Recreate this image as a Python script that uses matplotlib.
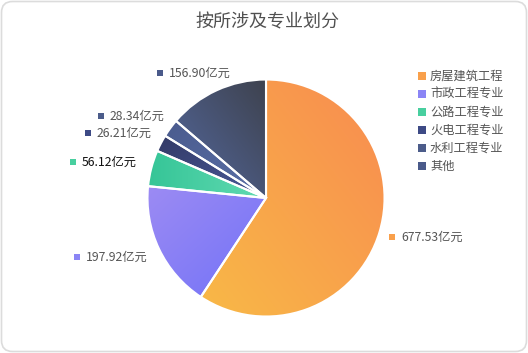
import numpy as np
import matplotlib
matplotlib.use("Agg")
import matplotlib.pyplot as plt
from matplotlib.patches import FancyBboxPatch
from matplotlib.colors import LinearSegmentedColormap

plt.rcParams['font.family'] = ['Noto Sans CJK SC', 'DejaVu Sans']

title = "按所涉及专业划分"
categories = ["房屋建筑工程", "市政工程专业", "公路工程专业", "火电工程专业", "水利工程专业", "其他"]
values = [677.53, 197.92, 56.12, 26.21, 28.34, 156.90]
value_labels = ["677.53亿元", "197.92亿元", "56.12亿元", "26.21亿元", "28.34亿元", "156.90亿元"]

# gradient colour pairs (start, end) and direction vectors (dx, dy) in y-up coords
grad_colors = [("#F98B50", "#F8B947"), ("#9C8BF3", "#7272F8"), ("#35C597", "#62DAB2"),
               ("#333A66", "#4A5A9A"), ("#4A5B8E", "#5A6FA6"), ("#3E424E", "#5469A0")]
grad_dirs = [(-1, -1), (1, -1), (1, 0), (1, -1), (1, -1), (-1, -1)]
legend_colors = ["#F9A04B", "#8B85F5", "#48CF9F", "#3D4A85", "#4C5C8A", "#4A5A8A"]

W, H = 528, 353
fig = plt.figure(figsize=(W / 100, H / 100), dpi=100)
ax = fig.add_axes([0, 0, 1, 1])
ax.set_xlim(0, W)
ax.set_ylim(0, H)
ax.set_aspect('equal')
ax.axis('off')

# rounded border
border = FancyBboxPatch((1.5, 1.5), W - 3, H - 3, boxstyle="round,pad=0,rounding_size=11",
                        transform=ax.transData, fill=False, edgecolor="#DCDCDC", linewidth=1.2)
ax.add_patch(border)

cx, cy, R = 266, H - 198, 118.5
explode = [0.038, 0, 0, 0, 0, 0]
wedges, _ = ax.pie(values, center=(cx, cy), radius=R, startangle=90, counterclock=False,
                   explode=explode, wedgeprops=dict(edgecolor="white", linewidth=1.5),
                   frame=True)
ax.set_xlim(0, W)
ax.set_ylim(0, H)
ax.axis('off')

for w, (c0, c1), (dx, dy) in zip(wedges, grad_colors, grad_dirs):
    bb = w.get_path().get_extents(w.get_transform())
    bbd = ax.transData.inverted().transform(bb.get_points())
    x0, y0 = bbd[0]
    x1, y1 = bbd[1]
    n = 200
    gx, gy = np.meshgrid(np.linspace(0, 1, n), np.linspace(0, 1, n))
    t = (gx - 0.5) * dx + (gy - 0.5) * dy
    t = (t - t.min()) / (t.max() - t.min())
    cmap = LinearSegmentedColormap.from_list("g", [c0, c1])
    im = ax.imshow(t, cmap=cmap, extent=(x0, x1, y0, y1), origin='lower',
                   interpolation='bilinear', zorder=w.get_zorder() - 0.1, aspect='auto')
    im.set_clip_path(w)
    w.set_facecolor('none')

ax.set_xlim(0, W)
ax.set_ylim(0, H)

# title
ax.text(267, H - 22, title, ha='center', va='center', fontsize=13, color="#505050")

# value labels (marker x, y in pixel layout)
label_pos = [(392, 237), (77, 257), (73, 162), (88, 133), (101, 116), (160, 73)]
for (px, py), lab, col, i in zip(label_pos, value_labels, legend_colors, range(6)):
    ax.scatter([px], [H - py], marker='s', s=22, color=col, zorder=5, linewidths=0)
    ax.text(px + 9, H - py, lab, ha='left', va='center', fontsize=8.8,
            color="#111111" if i == 2 else "#555555", zorder=5)

# legend
for i, (cat, col) in enumerate(zip(categories, legend_colors)):
    y = H - (76 + i * 18)
    ax.scatter([422], [y], marker='s', s=38, color=col, zorder=5, linewidths=0)
    ax.text(430, y, cat, ha='left', va='center', fontsize=8.8, color="#555555")

fig.savefig("out.png", dpi=100)
